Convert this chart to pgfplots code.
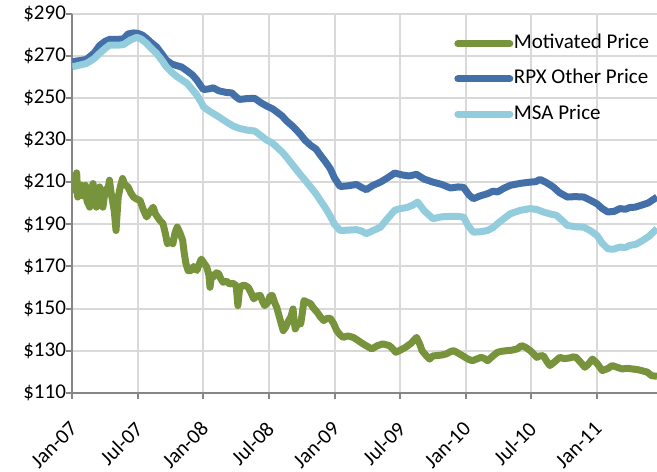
\documentclass[border=0pt]{standalone}
\usepackage{pgfplots}
\pgfplotsset{compat=1.18}
\usepackage{fontspec}
\setmainfont{Carlito}

\definecolor{motgreen}{HTML}{77933C}
\definecolor{rpxblue}{HTML}{4470A9}
\definecolor{msablue}{HTML}{93CDDD}
\definecolor{axisgray}{HTML}{868686}
\definecolor{gridgray}{HTML}{D9D9D9}

% x = months since January 2007
\pgfplotstableread{
x y
0.0 207.8
0.15 213
0.3 206
0.4 214.5
0.5 203
0.7 205
0.85 208.6
1.0 203.5
1.2 208.6
1.35 201
1.6 198.2
1.75 206
1.9 209.4
2.05 201
2.2 198.2
2.35 205
2.5 207.8
2.65 199
2.8 198.2
2.95 204
3.1 207
3.25 206
3.4 211
3.55 205
3.7 200.6
3.85 196
4.0 187.1
4.1 195
4.2 203
4.4 208
4.6 211.8
4.8 209
5.1 207.8
5.35 205
5.6 203
5.9 202
6.2 201.4
6.5 197
6.8 193.5
7.1 196
7.4 198.2
7.6 195
7.8 193.5
8.0 192
8.3 190.3
8.5 186
8.7 180.8
9.0 182
9.2 180.8
9.4 186
9.6 188.7
9.85 186
10.1 182.4
10.25 176
10.4 171.3
10.6 168
10.9 168.1
11.1 170
11.4 168.1
11.6 171
11.8 173.5
12.0 172
12.3 169.7
12.5 166
12.6 160.1
12.75 166
12.9 164.9
13.2 167
13.4 166.5
13.6 164
13.8 162.5
14.1 163
14.4 161.7
14.7 162
15.0 160.9
15.15 151.4
15.3 159
15.5 160.9
15.8 161
16.1 160.1
16.4 157
16.6 154.6
16.9 156
17.2 156.2
17.4 153.5
17.6 151.4
17.9 153
18.1 156
18.3 156.2
18.5 153
18.7 150.6
19.0 145
19.3 139.5
19.5 141
19.8 144.3
20.0 146
20.2 149.8
20.3 144
20.4 140.3
20.65 143
20.9 142.7
21.05 148
21.2 153.8
21.5 153
21.8 152.3
22.1 150
22.4 148.3
22.7 146
23.0 144.3
23.3 145.3
23.6 145.4
23.9 143
24.2 139.5
24.5 137.5
24.8 136.3
25.2 137
25.7 136.3
26.1 135
26.6 133.2
27.0 132
27.4 130.8
27.9 132.3
28.4 133.2
29.0 132.4
29.3 131
29.6 129.2
30.0 130.2
30.5 131.6
31.0 133.5
31.5 136.3
31.8 133
32.0 130
32.4 127.5
32.7 126
33.0 127.5
33.3 127.6
33.8 127.9
34.2 128.4
34.6 129.5
34.9 130
35.3 128.8
35.7 127.6
36.2 126
36.6 125.2
37.0 126
37.4 126.8
37.7 126.3
38.0 125.2
38.5 127.5
38.9 129.2
39.3 129.7
39.8 130
40.2 130.2
40.7 130.8
41.1 132.4
41.5 131.5
41.9 130
42.2 128.5
42.5 126.8
42.8 127.5
43.1 127.6
43.4 125
43.7 122.9
44.1 124.5
44.6 126.8
45.0 126.2
45.5 126.5
45.8 127
46.1 126.8
46.5 124.5
46.9 122.1
47.2 123.5
47.6 126
48.0 124
48.5 120.5
49.0 121.5
49.4 122.9
49.9 122
50.3 121.3
50.8 121.6
51.2 121.3
51.7 121
52.1 120.5
52.6 119.8
53.0 118.1
53.5 117.8
}\motivated

\pgfplotstableread{
x y
0 267.3
0.6 267.8
1.3 268.4
2.0 271.5
2.5 275
3.0 277
3.4 277.9
4.3 278
4.7 278.2
5.1 280.5
5.6 281
6.0 280.8
6.4 280
6.8 278.4
7.2 276.5
7.7 274.4
8.2 271
8.6 268.1
9.1 266.2
9.6 265.4
10.0 264.8
10.5 263
11.0 261
11.4 258.6
11.8 255.5
12.0 254.1
12.5 254.4
12.9 254.9
13.4 253.5
14.1 252.7
14.6 252.5
15.0 250.5
15.3 249.4
16.0 249.8
16.7 249.9
17.2 248
17.8 246.2
18.3 245
18.7 243.5
19.2 241.5
19.6 239.2
20.2 236.5
20.8 233.2
21.3 230
21.8 227.6
22.3 225.8
22.7 222.9
23.2 219.5
23.6 216.5
24.0 212
24.5 208
25.2 208.3
26.0 209
26.5 207.5
26.9 206.5
27.5 208.5
28.2 210.1
28.8 212
29.5 214.4
30.2 213.5
30.8 213
31.5 213.8
32.2 211.5
33.0 210.1
33.8 209
34.6 207.3
35.3 207.8
35.8 207.6
36.3 204
36.7 202.2
37.3 203.5
38.0 204.6
38.5 205.8
38.9 205.4
39.5 207.2
40.1 208.6
41.0 209.5
41.9 210.1
42.4 210.3
42.8 211.4
43.4 209.8
44.0 207.8
44.6 205
45.3 203
46.0 203.2
46.8 203
47.4 201.5
48.0 199.8
48.5 197.5
49.0 195.9
49.6 196.2
50.1 197.5
50.6 197.2
51.0 198
51.5 198.2
52.0 199
52.7 200.2
53.5 203
}\rpxother

\pgfplotstableread{
x y
0 264.9
0.6 265.6
1.3 266.5
2.0 268.8
2.5 271.3
3.0 273.6
3.4 275.2
4.3 275.2
4.7 275.5
5.3 277.6
5.9 278.9
6.3 278.1
6.8 276
7.2 273.8
7.7 271.3
8.2 268
8.6 264.9
9.1 262.3
9.6 260.1
10.0 258.8
10.5 257
11.0 254
11.4 251.4
11.8 248
12.0 245.9
12.5 244
12.9 242.7
13.5 240.8
14.1 238.7
14.7 236.8
15.3 235.6
16.0 234.8
16.7 234.4
17.2 232.4
17.8 230
18.3 228.7
18.7 226.8
19.2 224.4
19.6 222
20.2 218
20.8 214.1
21.3 211
21.8 207.8
22.3 204.5
22.7 201.4
23.2 197.5
23.6 194
24.0 190
24.5 187.1
25.3 187.3
26.0 187.5
26.5 186.8
26.9 185.6
27.5 187
28.2 188.7
28.8 192.5
29.5 196.7
30.0 197.5
30.6 198
31.1 199
31.6 200.6
32.2 196.5
33.0 192.7
33.8 193.6
34.6 193.8
35.2 193.8
35.8 193.5
36.2 189.5
36.7 186.3
37.3 186.5
38.0 187.1
38.5 188.5
38.9 190.3
39.5 192.8
40.1 195.1
41.0 196.7
41.9 197.5
42.5 197.1
43.1 195.9
43.7 195
44.3 194.3
44.8 192
45.3 189.5
46.0 188.9
46.8 188.7
47.4 187
48.0 184.8
48.5 181
49.0 178.4
49.5 178.2
50.1 179.2
50.6 179
51.0 180
51.6 180.6
52.2 182.4
52.8 184.5
53.5 188
}\msa

\begin{document}
\begin{tikzpicture}
\begin{axis}[
  scale only axis,
  width=292.35bp, height=189.35bp,
  xmin=0, xmax=53.5, ymin=110, ymax=290,
  axis x line*=bottom, axis y line*=left,
  axis line style={axisgray, line width=1bp, -},
  tick align=outside,
  major tick length=3bp,
  tick style={axisgray, line width=1bp},
  grid=major,
  grid style={gridgray, line width=1bp},
  font=\fontsize{10.5bp}{12.6bp}\selectfont,
  xtick={0,6,...,48},
  xticklabels={Jan-07,Jul-07,Jan-08,Jul-08,Jan-09,Jul-09,Jan-10,Jul-10,Jan-11},
  ytick={110,130,...,290},
  yticklabels={\$110,\$130,\$150,\$170,\$190,\$210,\$230,\$250,\$270,\$290},
  xticklabel shift=12.5bp,
  xticklabel style={xshift=1.5bp, rotate=45, anchor=east, inner sep=1bp},
  yticklabel style={inner sep=1bp, xshift=1bp},
  legend cell align=left,
  legend image code/.code={\draw[#1, line cap=round] (0bp,0bp) -- (26bp,0bp);},
  legend style={
    at={(0.6425,0.9612)}, anchor=north west,
    draw=none, fill=none,
    font=\fontsize{10.5bp}{12.6bp}\selectfont,
    row sep=7bp,
    nodes={inner sep=0.3bp, text height=7.5bp, text depth=2.5bp},
  },
  every axis plot/.append style={line width=3.5bp, line join=round},
]
\coordinate (sw) at (rel axis cs:0,0);
\coordinate (ne) at (rel axis cs:1,1);
\addplot[motgreen] table {\motivated};
\addlegendentry{Motivated Price}
\addplot[rpxblue] table {\rpxother};
\addlegendentry{RPX Other Price}
\addplot[msablue] table {\msa};
\addlegendentry{MSA Price}
\end{axis}
\pgfresetboundingbox
\path ([shift={(-36.15bp,-39.65bp)}]sw) rectangle ([shift={(0bp,7bp)}]ne);
\end{tikzpicture}
\end{document}
